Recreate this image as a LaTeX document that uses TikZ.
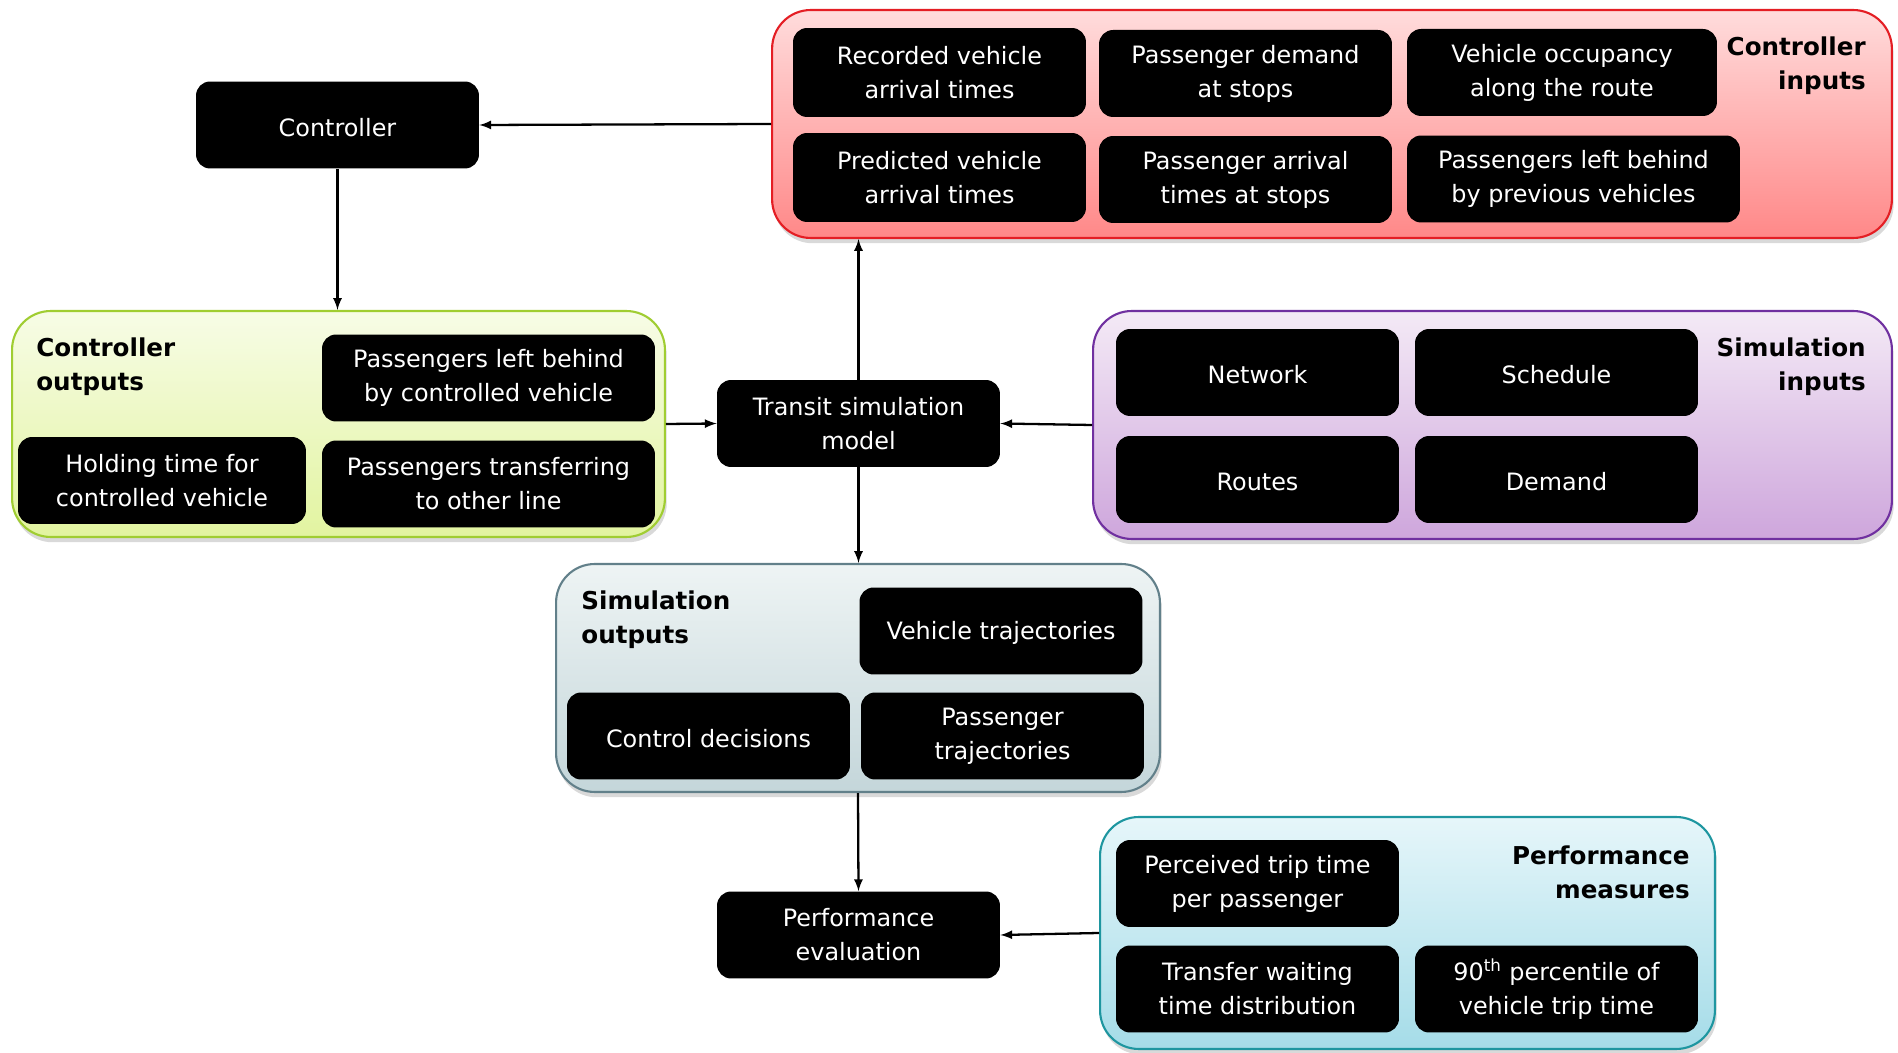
\documentclass[tikz,border=0pt]{standalone}
\usepackage{fontspec}
\setmainfont{DejaVu Sans}
\usetikzlibrary{arrows,shadows,calc,positioning}
\tikzset{every picture/.style={/utils/exec={\fontsize{13.6}{19.4}\selectfont}}}
\tikzset{blk/.style={fill=black,text=white,rounded corners=8pt,align=center,
    minimum width=5.66cm,minimum height=1.74cm,inner sep=0pt,
    execute at begin node={\rule{0pt}{13pt}}}}
\tikzset{grp/.style={rounded corners=22pt,line width=1.2pt,inner sep=0pt,
    drop shadow={opacity=0.3,shadow xshift=1pt,shadow yshift=-3pt}}}
\tikzset{ttl/.style={font=\fontsize{14}{19.4}\selectfont\bfseries,inner sep=0pt}}
\tikzset{arr/.style={-latex,line width=1.3pt}}

\definecolor{redtop}{RGB}{255,220,220}
\definecolor{redbot}{RGB}{255,136,136}
\definecolor{redline}{RGB}{228,30,36}
\definecolor{grntop}{RGB}{247,252,230}
\definecolor{grnbot}{RGB}{226,244,160}
\definecolor{grnline}{RGB}{160,205,50}
\definecolor{purtop}{RGB}{244,234,246}
\definecolor{purbot}{RGB}{206,166,220}
\definecolor{purline}{RGB}{112,48,160}
\definecolor{gretop}{RGB}{238,244,244}
\definecolor{grebot}{RGB}{196,214,218}
\definecolor{greline}{RGB}{98,128,138}
\definecolor{cyntop}{RGB}{230,246,250}
\definecolor{cynbot}{RGB}{165,220,232}
\definecolor{cynline}{RGB}{30,150,160}

\begin{document}
\begin{tikzpicture}[x=0.02cm,y=-0.02cm]
    \useasboundingbox (0,0) rectangle (1898,1053);

    % groups
    \node (cin) at (1332,124) [grp,draw=redline,top color=redtop,bottom color=redbot,
        minimum width=22.4cm,minimum height=4.56cm] {};
    \node (cout) at (338.5,424) [grp,draw=grnline,top color=grntop,bottom color=grnbot,
        minimum width=13.06cm,minimum height=4.52cm] {};
    \node (sin) at (1492.5,425) [grp,draw=purline,top color=purtop,bottom color=purbot,
        minimum width=15.98cm,minimum height=4.56cm] {};
    \node (sout) at (858,678) [grp,draw=greline,top color=gretop,bottom color=grebot,
        minimum width=12.08cm,minimum height=4.56cm] {};
    \node (pm) at (1407.5,933) [grp,draw=cynline,top color=cyntop,bottom color=cynbot,
        minimum width=12.3cm,minimum height=4.64cm] {};

    \node [ttl,anchor=east,align=right] at (1866,65.5) {Controller\\inputs};
    \node [ttl,anchor=west,align=left] at (36,366.5) {Controller\\outputs};
    \node [ttl,anchor=east,align=right] at (1866,366.5) {Simulation\\inputs};
    \node [ttl,anchor=west,align=left] at (581,619.5) {Simulation\\outputs};
    \node [ttl,anchor=east,align=right] at (1690,872.5) {Performance\\measures};

    % controller inputs
    \node (rec) at (939.5,72.5) [blk,minimum width=5.86cm,minimum height=1.78cm] {Recorded vehicle\\arrival times};
    \node (dem) at (1245.5,73.5) [blk,minimum width=5.86cm] {Passenger demand\\at stops};
    \node (occ) at (1562,72.5) [blk,minimum width=6.2cm] {Vehicle occupancy\\along the route};
    \node (pred) at (939.5,177.5) [blk,minimum width=5.86cm,minimum height=1.78cm] {Predicted vehicle\\arrival times};
    \node (arv) at (1245.5,179.5) [blk,minimum width=5.86cm] {Passenger arrival\\times at stops};
    \node (prev) at (1573.5,179) [blk,minimum width=6.66cm] {Passengers left behind\\by previous vehicles};

    % main chain
    \node (ctrl) at (337.5,125) [blk] {Controller};
    \node (tsm) at (858.5,423.5) [blk] {Transit simulation\\model};
    \node (pe) at (858.5,935) [blk] {Performance\\evaluation};

    % controller outputs
    \node (lbc) at (488.5,378) [blk,minimum width=6.66cm] {Passengers left behind\\by controlled vehicle};
    \node (hold) at (162,480.5) [blk,minimum width=5.76cm] {Holding time for\\controlled vehicle};
    \node (trf) at (488.5,484) [blk,minimum width=6.66cm] {Passengers transferring\\to other line};

    % simulation inputs
    \node (net) at (1257.5,372.5) [blk] {Network};
    \node (sch) at (1556.5,372.5) [blk] {Schedule};
    \node (rts) at (1257.5,479.5) [blk] {Routes};
    \node (dmd) at (1556.5,479.5) [blk] {Demand};

    % simulation outputs
    \node (vtr) at (1001,631) [blk] {Vehicle trajectories};
    \node (cdec) at (708.5,736) [blk] {Control decisions};
    \node (ptr) at (1002.5,736) [blk] {Passenger\\trajectories};

    % performance measures
    \node (ptt) at (1257.5,883.5) [blk] {Perceived trip time\\per passenger};
    \node (twt) at (1257.5,989) [blk] {Transfer waiting\\time distribution};
    \node (p90) at (1556.5,989) [blk] {90\textsuperscript{th} percentile of\\vehicle trip time};

    % connectors
    \draw [arr] (cin.west) -- (ctrl.east);
    \draw [arr] (ctrl.south) -- (ctrl.south |- cout.north);
    \draw [arr] (cout.east) -- (tsm.west);
    \draw [arr] (sin.west) -- (tsm.east);
    \draw [arr] (tsm.north) -- (tsm.north |- cin.south);
    \draw [arr] (tsm.south) -- (tsm.south |- sout.north);
    \draw [arr] (sout.south) -- (pe.north);
    \draw [arr] (pm.west) -- (pe.east);
\end{tikzpicture}
\end{document}
